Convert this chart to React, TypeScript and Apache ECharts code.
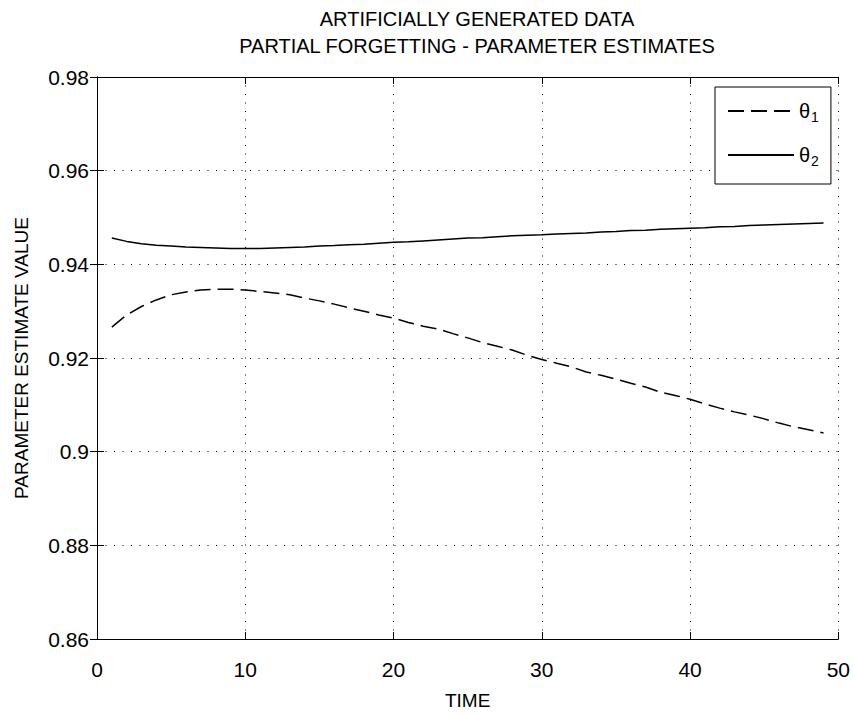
import React, { useEffect, useRef } from "react";
import * as echarts from "echarts";

const titleLines = ["ARTIFICIALLY GENERATED DATA", "PARTIAL FORGETTING - PARAMETER ESTIMATES"];
const xName = "TIME";
const yName = "PARAMETER ESTIMATE VALUE";
const seriesNames = ["theta1", "theta2"];

const time = [
  1, 2, 3, 4, 5, 6, 7, 8, 9, 10, 11, 12, 13, 14, 15, 16, 17, 18, 19, 20, 21, 22, 23, 24, 25,
  26, 27, 28, 29, 30, 31, 32, 33, 34, 35, 36, 37, 38, 39, 40, 41, 42, 43, 44, 45, 46, 47, 48, 49,
];

const theta1 = [
  0.9266, 0.9292, 0.931, 0.9324, 0.9335, 0.9341, 0.9345, 0.9347, 0.9347, 0.9345,
  0.9342, 0.9339, 0.9335, 0.9328, 0.9322, 0.9315, 0.9307, 0.93, 0.9292, 0.9285,
  0.9276, 0.9268, 0.9262, 0.9252, 0.9243, 0.9233, 0.9225, 0.9217, 0.9206, 0.9197,
  0.9189, 0.9181, 0.917, 0.9163, 0.9155, 0.9146, 0.9138, 0.9127, 0.912, 0.9112,
  0.9102, 0.9093, 0.9085, 0.9078, 0.907, 0.9061, 0.9053, 0.9047, 0.904,
];

const theta2 = [
  0.9456, 0.9449, 0.9444, 0.9441, 0.9439, 0.9437, 0.9436, 0.9435, 0.9434, 0.9434,
  0.9434, 0.9435, 0.9436, 0.9437, 0.9439, 0.944, 0.9442, 0.9443, 0.9445, 0.9447,
  0.9448, 0.945, 0.9452, 0.9454, 0.9456, 0.9457, 0.9459, 0.9461, 0.9462, 0.9463,
  0.9465, 0.9466, 0.9467, 0.9469, 0.947, 0.9472, 0.9473, 0.9475, 0.9476, 0.9477,
  0.9478, 0.948, 0.9481, 0.9483, 0.9484, 0.9485, 0.9486, 0.9487, 0.9488,
];

const FONT = "'Liberation Sans', Arial, sans-serif";

export default function App() {
  const ref = useRef<HTMLDivElement>(null);
  useEffect(() => {
    if (!ref.current) return;
    const chart = echarts.init(ref.current, null, { renderer: "svg" });
    const axisLine = { show: true, lineStyle: { color: "#000", width: 1 } };
    const tick = { show: true, inside: true, length: 7, lineStyle: { color: "#000", width: 1 } };
    const dotted = { show: true, lineStyle: { color: "#000", width: 1, type: [1, 7.5] } };
    chart.setOption({
      animation: false,
      backgroundColor: "#fff",
      textStyle: { fontFamily: FONT, color: "#000" },
      title: {
        text: titleLines.join("\n"),
        left: 472,
        textAlign: "center",
        top: 0,
        textStyle: { fontFamily: FONT, fontSize: 20, fontWeight: "normal", color: "#000", lineHeight: 27 },
      },
      legend: {
        orient: "vertical",
        left: 715,
        top: 87,
        padding: [14, 12, 16, 12],
        itemGap: 21,
        itemWidth: 66,
        itemHeight: 14,
        backgroundColor: "#fff",
        borderColor: "#000",
        borderWidth: 1,
        borderRadius: 0,
        itemStyle: { opacity: 0 },
        data: seriesNames,
        formatter: (name: string) => "{t|θ}{s|" + (name === "theta1" ? "1" : "2") + "}",
        textStyle: {
          color: "#000",
          fontFamily: FONT,
          rich: {
            t: { fontSize: 20, fontFamily: FONT, color: "#000" },
            s: { fontSize: 14, fontFamily: FONT, color: "#000", padding: [12, 0, 0, 1] },
          },
        },
      },
      grid: { left: 97, right: 13, top: 77, bottom: 71, containLabel: false },
      xAxis: [
        {
          type: "value",
          min: 0,
          max: 50,
          interval: 10,
          name: xName,
          nameLocation: "middle",
          nameGap: 52,
          nameTextStyle: { fontFamily: FONT, fontSize: 19, color: "#000" },
          axisLine,
          axisTick: tick,
          axisLabel: { fontFamily: FONT, fontSize: 21, color: "#000", margin: 20 },
          splitLine: dotted,
        },
        {
          type: "value",
          position: "top",
          min: 0,
          max: 50,
          interval: 10,
          axisLine,
          axisTick: tick,
          axisLabel: { show: false },
          splitLine: { show: false },
        },
      ],
      yAxis: [
        {
          type: "value",
          min: 0.86,
          max: 0.98,
          interval: 0.02,
          name: yName,
          nameLocation: "middle",
          nameGap: 66,
          nameRotate: 90,
          nameTextStyle: { fontFamily: FONT, fontSize: 19, color: "#000" },
          axisLine,
          axisTick: tick,
          axisLabel: {
            fontFamily: FONT,
            fontSize: 21,
            color: "#000",
            margin: 8,
            formatter: (v: number) => String(parseFloat(v.toFixed(2))),
          },
          splitLine: dotted,
        },
        {
          type: "value",
          position: "right",
          min: 0.86,
          max: 0.98,
          interval: 0.02,
          axisLine,
          axisTick: tick,
          axisLabel: { show: false },
          splitLine: { show: false },
        },
      ],
      series: [
        {
          name: seriesNames[0],
          type: "line",
          symbol: "none",
          data: time.map((t, i) => [t, theta1[i]]),
          lineStyle: { color: "#000", width: 1.5, type: [16, 7] },
          itemStyle: { color: "#000" },
        },
        {
          name: seriesNames[1],
          type: "line",
          symbol: "none",
          data: time.map((t, i) => [t, theta2[i]]),
          lineStyle: { color: "#000", width: 1.5, type: "solid" },
          itemStyle: { color: "#000" },
        },
      ],
    });
    return () => chart.dispose();
  }, []);
  return (
    <div
      ref={ref}
      style={{ position: "fixed", left: 0, top: 0, width: 853, height: 715, background: "#fff" }}
    />
  );
}
